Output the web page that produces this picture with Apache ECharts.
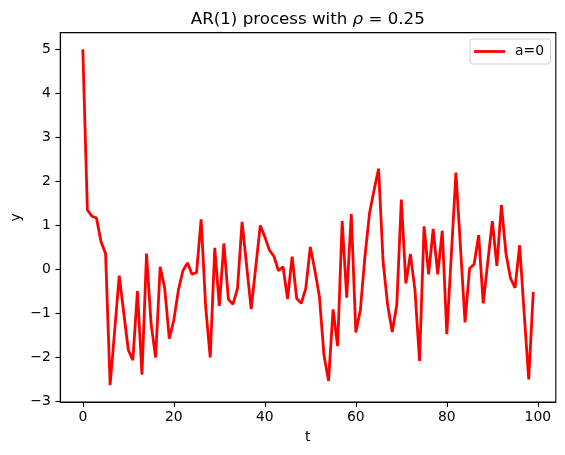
<!DOCTYPE html>
<html>
<head>
<meta charset="utf-8">
<script src="https://cdn.jsdelivr.net/npm/echarts@6/dist/echarts.min.js"></script>
<style>html,body{margin:0;padding:0;background:#fff}#c{width:565px;height:455px}</style>
</head>
<body>
<div id="c"></div>
<script>
// AR(1) series values, index = t
var yValues = [5.0, 1.35, 1.21, 1.17, 0.63, 0.36, -2.63, -1.39, -0.14, -0.99,
  -1.83, -2.06, -0.49, -2.39, 0.36, -1.23, -2.0, 0.06, -0.43, -1.57,
  -1.15, -0.47, -0.03, 0.15, -0.11, -0.07, 1.14, -0.85, -2.0, 0.49,
  -0.83, 0.59, -0.68, -0.79, -0.43, 1.08, 0.09, -0.9, 0.05, 1.0,
  0.74, 0.44, 0.30, -0.03, 0.06, -0.67, 0.29, -0.66, -0.77, -0.43,
  0.51, -0.02, -0.62, -1.95, -2.53, -0.91, -1.74, 1.10, -0.64, 1.26,
  -1.43, -0.92, 0.29, 1.27, 1.80, 2.29, 0.17, -0.81, -1.42, -0.81,
  1.59, -0.32, 0.35, -0.47, -2.08, 0.98, -0.11, 0.92, -0.11, 0.88,
  -1.47, 0.35, 2.2, 0.5, -1.2, 0.02, 0.12, 0.78, -0.77, 0.17,
  1.10, 0.08, 1.46, 0.36, -0.2, -0.42, 0.55, -1.0, -2.5, -0.51];
var xTicks = [0, 20, 40, 60, 80, 100];
var yTicks = [-3, -2, -1, 0, 1, 2, 3, 4, 5];
var seriesName = 'a=0';
var titleMain = 'AR(1) process with ';
var titleSym = 'ρ';
var titleRest = ' = 0.25';
var xLabel = 't';
var yLabel = 'y';

var points = yValues.map(function (v, i) { return [i, v]; });
var xMinD = 0, xMaxD = yValues.length - 1;
var yMinD = Math.min.apply(null, yValues), yMaxD = Math.max.apply(null, yValues);
var xm = (xMaxD - xMinD) * 0.05, ym = (yMaxD - yMinD) * 0.05;

var FONT = 'DejaVu Sans';
var fmt = function (v) { return String(v).replace('-', '\u2212'); };

var chart = echarts.init(document.getElementById('c'), null, {renderer: 'canvas'});
chart.setOption({
  animation: false,
  backgroundColor: '#fff',
  textStyle: {fontFamily: FONT},
  grid: {left: 60.3, top: 32.6, right: 9.2, bottom: 53, show: true,
    borderColor: '#000', borderWidth: 1.1, backgroundColor: 'transparent', containLabel: false},
  xAxis: {
    type: 'value', min: xMinD - xm, max: xMaxD + xm,
    axisLine: {show: true, onZero: false, lineStyle: {color: '#000', width: 1.1}},
    axisTick: {show: true, length: 4.9, lineStyle: {color: '#000', width: 1.1}, customValues: xTicks},
    axisLabel: {show: true, color: '#000', fontSize: 13.9, fontFamily: FONT, margin: 8.5,
      customValues: xTicks, formatter: fmt},
    splitLine: {show: false}
  },
  yAxis: {
    type: 'value', min: yMinD - ym, max: yMaxD + ym,
    axisLine: {show: true, onZero: false, lineStyle: {color: '#000', width: 1.1}},
    axisTick: {show: true, length: 4.9, lineStyle: {color: '#000', width: 1.1}, customValues: yTicks},
    axisLabel: {show: true, color: '#000', fontSize: 13.9, fontFamily: FONT, margin: 9.5,
      customValues: yTicks, formatter: fmt},
    splitLine: {show: false}
  },
  legend: {
    show: true, left: 470, top: 39,
    padding: [5.5, 6.5, 5.5, 4],
    itemWidth: 31, itemHeight: 2.8,
    icon: 'rect',
    borderColor: '#cccccc', borderWidth: 1, borderRadius: 3,
    backgroundColor: 'rgba(255,255,255,0.8)',
    itemStyle: {color: '#ff0000', borderWidth: 0},
    textStyle: {color: '#000', fontSize: 13.9, lineHeight: 14, fontFamily: FONT, padding: [0, 0, 0, 5]},
    data: [seriesName]
  },
  series: [{
    name: seriesName, type: 'line', data: points,
    showSymbol: false, symbol: 'none',
    lineStyle: {color: '#ff0000', width: 2.8},
    itemStyle: {color: '#ff0000'}
  }],
  graphic: [
    {type: 'text', x: 307.8, y: 19.5, style: {
      text: '{a|' + titleMain + '}{i|' + titleSym + '}{a|' + titleRest + '}',
      align: 'center', verticalAlign: 'middle',
      rich: {
        a: {fontFamily: FONT, fontSize: 16.67, fill: '#000', color: '#000'},
        i: {fontFamily: FONT, fontStyle: 'italic', fontSize: 16.67, fill: '#000', color: '#000'}
      }
    }},
    {type: 'text', x: 307.8, y: 437, style: {text: xLabel, font: '13.9px "DejaVu Sans"', fill: '#000', align: 'center', verticalAlign: 'middle'}},
    {type: 'text', x: 16.5, y: 217.4, rotation: Math.PI / 2, style: {text: yLabel, font: '13.9px "DejaVu Sans"', fill: '#000', align: 'center', verticalAlign: 'middle'}}
  ]
});
</script>
</body>
</html>
